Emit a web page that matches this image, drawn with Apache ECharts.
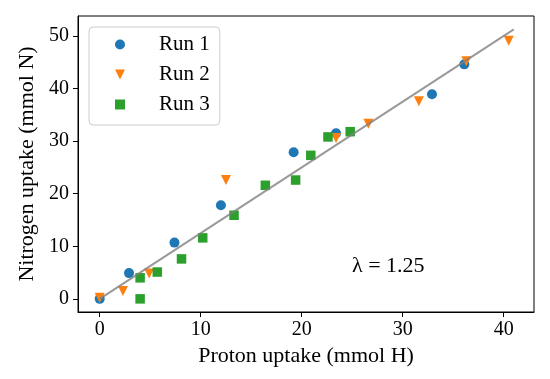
<!DOCTYPE html>
<html>
<head>
<meta charset="utf-8">
<script src="https://cdn.jsdelivr.net/npm/echarts@6/dist/echarts.min.js"></script>
<style>html,body{margin:0;padding:0;background:#fff}#c{width:550px;height:379px}</style>
</head>
<body>
<div id="c"></div>
<script>
const run1X = [0, 2.9, 7.4, 12.0, 19.2, 23.4, 32.9, 36.1];
const run1Y = [0, 4.9, 10.7, 17.8, 27.9, 31.5, 38.9, 44.6];
const run2X = [0, 2.3, 4.9, 12.5, 23.4, 26.6, 31.6, 36.3, 40.5];
const run2Y = [0.2, 1.5, 4.8, 22.6, 30.6, 33.3, 37.6, 45.2, 49.1];
const run3X = [4.0, 4.0, 5.7, 8.1, 10.2, 13.3, 16.4, 19.4, 20.9, 22.6, 24.8];
const run3Y = [0, 4.0, 5.1, 7.6, 11.6, 15.9, 21.6, 22.6, 27.3, 30.8, 31.8];
const fitX = [0, 41];
const fitY = [0, 51.25];
const xTicks = [0, 10, 20, 30, 40];
const yTicks = [0, 10, 20, 30, 40, 50];
const seriesNames = ['Run 1', 'Run 2', 'Run 3'];
const lambdaText = 'λ = 1.25';

const zip = (xs, ys) => xs.map((x, i) => [x, ys[i]]);
const FONT = 'Liberation Serif';
const TRI_DOWN = 'path://M0,0 L10,0 L5,10 Z';
const chart = echarts.init(document.getElementById('c'), null, {renderer: 'canvas'});
chart.setOption({
  animation: false,
  backgroundColor: '#fff',
  textStyle: {fontFamily: FONT, color: '#000'},
  grid: {left: 78, right: 16, top: 16, bottom: 67, show: true, borderColor: '#000', borderWidth: 1, backgroundColor: 'transparent'},
  xAxis: {
    type: 'value', min: -2.15, max: 43.0,
    name: 'Proton uptake (mmol H)', nameLocation: 'middle', nameGap: 32,
    nameTextStyle: {fontFamily: FONT, fontSize: 22, color: '#000'},
    axisLine: {show: true, onZero: false, lineStyle: {color: '#000', width: 1}},
    axisTick: {show: true, length: 5, lineStyle: {color: '#000'}, customValues: xTicks},
    axisLabel: {fontFamily: FONT, fontSize: 20, color: '#000', margin: 8, customValues: xTicks},
    splitLine: {show: false}
  },
  yAxis: {
    type: 'value', min: -2.5, max: 53.8,
    name: 'Nitrogen uptake (mmol N)', nameLocation: 'middle', nameGap: 39,
    nameTextStyle: {fontFamily: FONT, fontSize: 22, color: '#000'},
    axisLine: {show: true, onZero: false, lineStyle: {color: '#000', width: 1}},
    axisTick: {show: true, length: 5, lineStyle: {color: '#000'}, customValues: yTicks},
    axisLabel: {fontFamily: FONT, fontSize: 20, color: '#000', margin: 9, customValues: yTicks},
    splitLine: {show: false}
  },
  legend: {
    orient: 'vertical', left: 89, top: 27,
    padding: [7, 10, 10, 26],
    itemWidth: 10, itemHeight: 10, itemGap: 9,
    borderColor: '#cccccc', borderWidth: 1, borderRadius: 4,
    backgroundColor: 'rgba(255,255,255,0.8)',
    textStyle: {fontFamily: FONT, fontSize: 21, color: '#000', lineHeight: 21, padding: [0, 0, 0, 29]},
    data: [
      {name: seriesNames[0], icon: 'circle'},
      {name: seriesNames[1], icon: TRI_DOWN},
      {name: seriesNames[2], icon: 'rect'}
    ]
  },
  graphic: [{
    type: 'text', left: 352, top: 255,
    style: {text: lambdaText, font: '22px "Liberation Serif"', fill: '#000'}
  }],
  series: [
    {name: seriesNames[0], type: 'scatter', data: zip(run1X, run1Y), symbol: 'circle', symbolSize: 10,
     itemStyle: {color: '#1f77b4', opacity: 1}, z: 2},
    {name: seriesNames[1], type: 'scatter', data: zip(run2X, run2Y), symbol: 'triangle', symbolRotate: 180, symbolSize: 10,
     itemStyle: {color: '#ff7f0e', opacity: 1}, z: 3},
    {name: seriesNames[2], type: 'scatter', data: zip(run3X, run3Y), symbol: 'rect', symbolSize: 9.5,
     itemStyle: {color: '#2ca02c', opacity: 1}, z: 4},
    {name: 'fit', type: 'line', data: zip(fitX, fitY), symbol: 'none', z: 5,
     lineStyle: {color: 'rgba(128,128,128,0.8)', width: 2}}
  ]
});
</script>
</body>
</html>
